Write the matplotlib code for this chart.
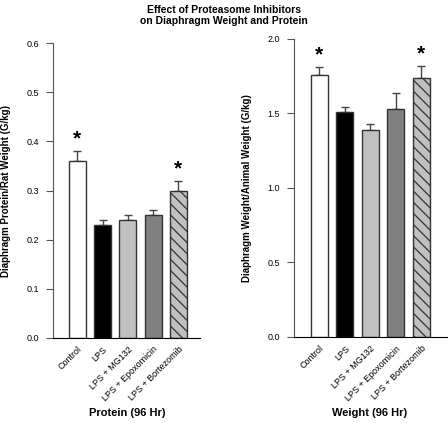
import matplotlib
matplotlib.use('Agg')
import matplotlib.pyplot as plt

groups = ['Control', 'LPS', 'LPS + MG132', 'LPS + Epoxomicin', 'LPS + Bortezomib']
protein = [0.36, 0.23, 0.24, 0.25, 0.30]
protein_err = [0.02, 0.01, 0.01, 0.01, 0.02]
weight = [1.76, 1.51, 1.39, 1.53, 1.74]
weight_err = [0.05, 0.03, 0.04, 0.11, 0.08]
significant = [True, False, False, False, True]

colors = ['white', 'black', '#c0c0c0', '#808080', '#c0c0c0']
hatches = ['', '', '', '', '\\\\\\']

plt.rcParams['font.family'] = ['Liberation Sans', 'DejaVu Sans']
plt.rcParams['hatch.linewidth'] = 0.9


def draw_panel(ax, vals, errs, ymax, ystep, ylabel, xlim):
    x = list(range(len(vals)))
    ax.bar(x, vals, width=0.67, color=colors, edgecolor='#333333',
           linewidth=1.0, hatch=hatches, zorder=2)
    ax.errorbar(x, vals, yerr=[[0] * len(errs), errs], fmt='none',
                ecolor='#444444', elinewidth=1.0, capsize=3, capthick=1.0, zorder=1)
    for i in x:
        if significant[i]:
            ax.text(i, vals[i] + errs[i] + ymax * 0.008, '*', ha='center', va='bottom',
                    fontsize=15, fontweight='bold')
    ax.set_xlim(*xlim)
    ax.set_ylim(0, ymax)
    n = int(round(ymax / ystep))
    ticks = [k * ystep for k in range(n + 1)]
    ax.set_yticks(ticks)
    ax.set_yticklabels(['%.1f' % t for t in ticks])
    ax.set_xticks(x)
    ax.set_xticklabels(groups, rotation=45, ha='right', rotation_mode='anchor', fontsize=6.5)
    ax.tick_params(axis='x', length=0, pad=5)
    ax.tick_params(axis='y', direction='out', length=5, labelsize=6.5, color='#555555', pad=5)
    ax.spines['top'].set_visible(False)
    ax.spines['right'].set_visible(False)
    ax.spines['left'].set_color('#555555')
    ax.spines['bottom'].set_color('black')
    ax.set_ylabel(ylabel, fontsize=7, fontweight='bold', labelpad=11)


fig = plt.figure(figsize=(4.48, 4.32), dpi=100)
ax1 = fig.add_axes([0.118, 0.218, 0.328, 0.682])
ax2 = fig.add_axes([0.656, 0.220, 0.344, 0.690])

draw_panel(ax1, protein, protein_err, 0.6, 0.1,
           'Diaphragm Protein/Rat Weight (G/kg)', (-0.97, 4.85))
draw_panel(ax2, weight, weight_err, 2.0, 0.5,
           'Diaphragm Weight/Animal Weight (G/kg)', (-1.0, 5.04))

fig.text(0.284, 0.044, 'Protein (96 Hr)', ha='center', va='center', fontsize=8, fontweight='bold')
fig.text(0.826, 0.044, 'Weight (96 Hr)', ha='center', va='center', fontsize=8, fontweight='bold')

fig.text(0.5, 0.988, 'Effect of Proteasome Inhibitors\non Diaphragm Weight and Protein',
         ha='center', va='top', fontsize=7.5, fontweight='bold', linespacing=1.15)

fig.savefig('out.png', dpi=100)
